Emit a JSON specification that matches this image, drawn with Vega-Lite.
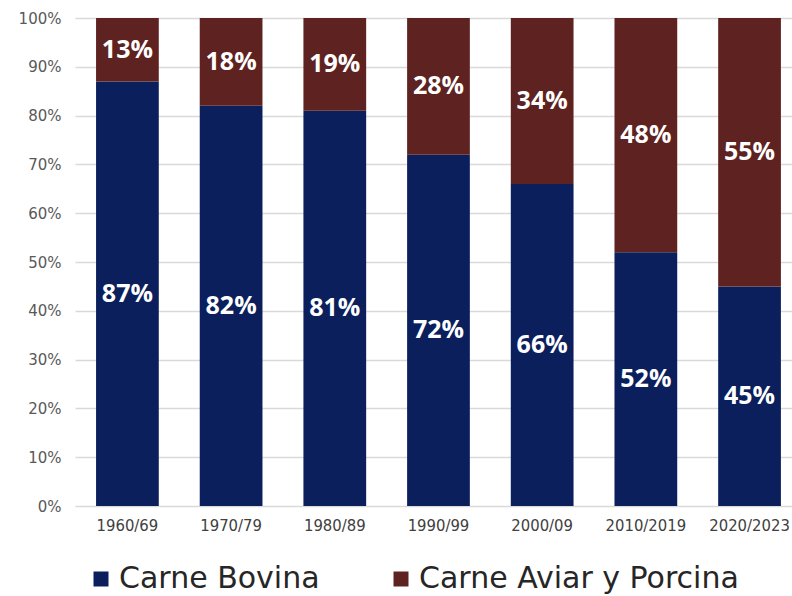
{
  "$schema": "https://vega.github.io/schema/vega-lite/v6.json",
  "width": 717,
  "height": 488,
  "autosize": {"type": "none"},
  "padding": {"left": 75, "top": 18, "right": 0, "bottom": 90},
  "background": "white",
  "config": {"view": {"stroke": null}},
  "data": {
    "values": [
      {"periodo": "1960/69", "tipo": "Carne Bovina", "k": 1, "v": 0.87},
      {"periodo": "1960/69", "tipo": "Carne Aviar y Porcina", "k": 2, "v": 0.13},
      {"periodo": "1970/79", "tipo": "Carne Bovina", "k": 1, "v": 0.82},
      {"periodo": "1970/79", "tipo": "Carne Aviar y Porcina", "k": 2, "v": 0.18},
      {"periodo": "1980/89", "tipo": "Carne Bovina", "k": 1, "v": 0.81},
      {"periodo": "1980/89", "tipo": "Carne Aviar y Porcina", "k": 2, "v": 0.19},
      {"periodo": "1990/99", "tipo": "Carne Bovina", "k": 1, "v": 0.72},
      {"periodo": "1990/99", "tipo": "Carne Aviar y Porcina", "k": 2, "v": 0.28},
      {"periodo": "2000/09", "tipo": "Carne Bovina", "k": 1, "v": 0.66},
      {"periodo": "2000/09", "tipo": "Carne Aviar y Porcina", "k": 2, "v": 0.34},
      {"periodo": "2010/2019", "tipo": "Carne Bovina", "k": 1, "v": 0.52},
      {"periodo": "2010/2019", "tipo": "Carne Aviar y Porcina", "k": 2, "v": 0.48},
      {"periodo": "2020/2023", "tipo": "Carne Bovina", "k": 1, "v": 0.45},
      {"periodo": "2020/2023", "tipo": "Carne Aviar y Porcina", "k": 2, "v": 0.55}
    ]
  },
  "encoding": {
    "x": {
      "field": "periodo",
      "type": "nominal",
      "sort": null,
      "scale": {"paddingInner": 0.395, "paddingOuter": 0.155, "align": 0.655},
      "axis": {
        "title": null,
        "labelAngle": 0,
        "domain": false,
        "ticks": false,
        "labelPadding": 11,
        "labelFontSize": 16.5,
        "labelFont": "DejaVu Sans Condensed, DejaVu Sans",
        "labelColor": "#404040"
      }
    }
  },
  "layer": [
    {
      "mark": {"type": "bar"},
      "encoding": {
        "y": {
          "field": "v",
          "type": "quantitative",
          "stack": "zero",
          "scale": {"domain": [0, 1]},
          "axis": {
            "title": null,
            "values": [0, 0.1, 0.2, 0.3, 0.4, 0.5, 0.6, 0.7, 0.8, 0.9, 1],
            "format": ".0%",
            "domain": false,
            "ticks": false,
            "labelPadding": 14,
            "labelFontSize": 15,
            "labelFont": "DejaVu Sans",
            "labelColor": "#595959",
            "gridColor": "#d9d9d9",
            "gridWidth": 1.5
          }
        },
        "order": {"field": "k", "type": "quantitative"},
        "color": {
          "field": "tipo",
          "type": "nominal",
          "sort": ["Carne Bovina", "Carne Aviar y Porcina"],
          "scale": {
            "domain": ["Carne Bovina", "Carne Aviar y Porcina"],
            "range": ["#0a1f5c", "#5e2220"]
          },
          "legend": {
            "title": null,
            "orient": "none",
            "direction": "horizontal",
            "legendX": 11,
            "legendY": 546,
            "symbolType": "square",
            "symbolSize": 225,
            "symbolStrokeWidth": 0,
            "labelFontSize": 30,
            "labelFont": "DejaVu Sans",
            "labelColor": "#262626",
            "labelOffset": 3,
            "columnPadding": 66,
            "labelLimit": 400
          }
        }
      }
    },
    {
      "mark": {"type": "text", "color": "white", "fontSize": 25, "fontWeight": "bold", "font": "Open Sans", "baseline": "middle"},
      "encoding": {
        "y": {"field": "v", "type": "quantitative", "stack": "zero", "bandPosition": 0.5},
        "order": {"field": "k", "type": "quantitative"},
        "detail": {"field": "tipo"},
        "text": {"field": "v", "type": "quantitative", "format": ".0%"}
      }
    }
  ]
}
